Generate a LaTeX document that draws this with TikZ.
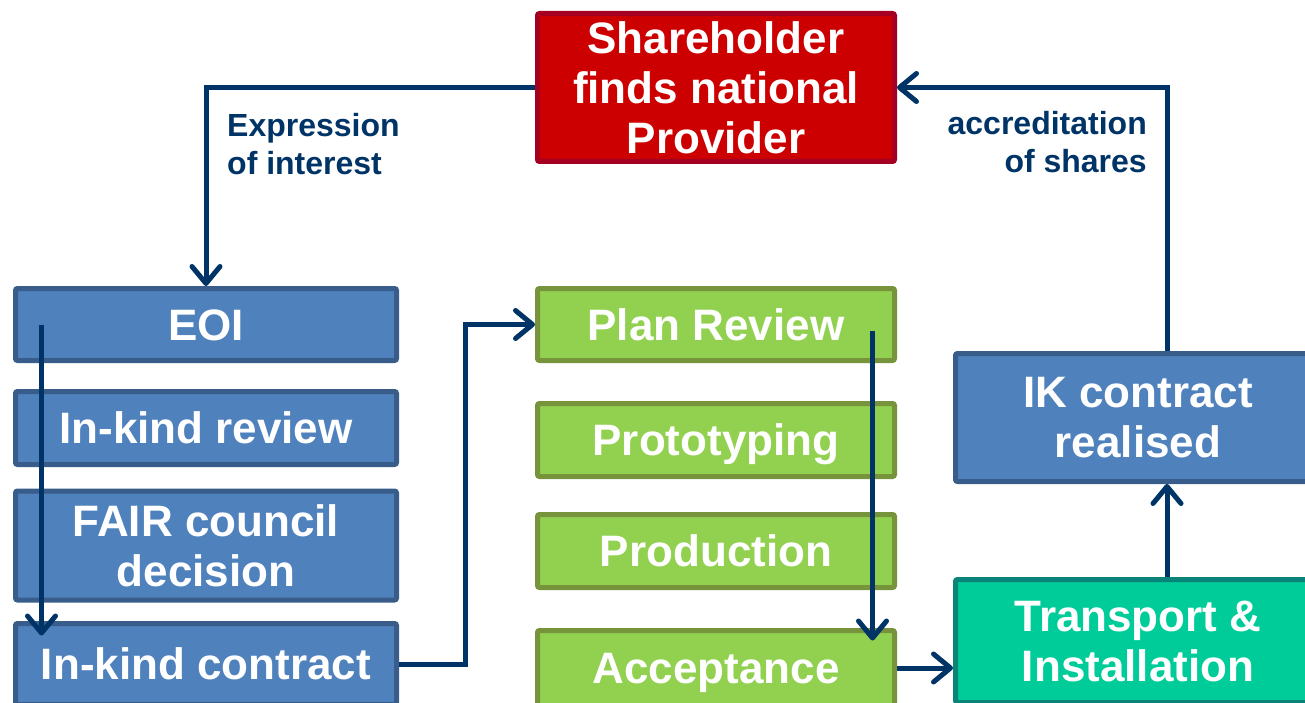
\documentclass[tikz,border=0pt]{standalone}
\usepackage{fontspec}
\setmainfont{Liberation Sans}
\usepackage{tikz}
\usetikzlibrary{arrows.meta}

\definecolor{redfill}{HTML}{CC0000}
\definecolor{redline}{HTML}{A50021}
\definecolor{bluefill}{HTML}{4F81BD}
\definecolor{blueline}{HTML}{385D8A}
\definecolor{greenfill}{HTML}{92D050}
\definecolor{greenline}{HTML}{77933C}
\definecolor{tealfill}{HTML}{00CC99}
\definecolor{tealline}{HTML}{0A8478}
\definecolor{arrowc}{HTML}{003366}

\begin{document}
\begin{tikzpicture}[x=1pt,y=-1pt,
                    >={Straight Barb[length=17pt,width=28pt,line cap=round,line join=round]},
                    box/.style={draw,line width=5pt,rounded corners=2pt,inner sep=0pt,
                                text=white,align=center,
                                font=\bfseries\fontsize{44}{50}\selectfont},
                    oneline/.style={text height=41pt,text depth=10pt},
                    redbox/.style={box,fill=redfill,draw=redline},
                    bluebox/.style={box,fill=bluefill,draw=blueline},
                    greenbox/.style={box,fill=greenfill,draw=greenline,oneline},
                    tealbox/.style={box,fill=tealfill,draw=tealline},
                    lbl/.style={inner sep=0pt,text=arrowc,
                                font=\bfseries\fontsize{32}{38}\selectfont},
                    link/.style={->,line width=5pt,draw=arrowc},
                    every edge/.style={link}]
  \useasboundingbox (0,0) rectangle (1305,703);
  \clip (0,0) rectangle (1305,703);

  \node[redbox,   minimum width=357pt, minimum height=148pt] (SH)  at (716,87.5)  {Shareholder\\finds national\\Provider};

  \node[bluebox,oneline, minimum width=381pt, minimum height=72pt] (EOI) at (206,324.5) {EOI};
  \node[bluebox,oneline, minimum width=381pt, minimum height=73pt] (IKR) at (206,428)   {In-kind review};
  \node[bluebox,  minimum width=381pt, minimum height=109pt] (FCD) at (206,545.5) {FAIR council\\decision};
  \node[bluebox,oneline, minimum width=381pt, minimum height=81pt] (IKC) at (206,664)   {In-kind contract};

  \node[greenbox, minimum width=357pt, minimum height=72pt]  (PR)  at (716,324.5) {Plan Review};
  \node[greenbox, minimum width=357pt, minimum height=73pt]  (PT)  at (716,440)   {Prototyping};
  \node[greenbox, minimum width=357pt, minimum height=73pt]  (PD)  at (716,551)   {Production};
  \node[greenbox, minimum width=357pt, minimum height=75pt]  (AC)  at (716,668)   {Acceptance};

  \node[bluebox,  minimum width=365pt, minimum height=128pt] (IKD) at (1138,417.5) {IK contract\\realised};
  \node[tealbox,  minimum width=365pt, minimum height=123pt] (TI)  at (1138,641)   {Transport \&\\Installation};

  \node[lbl, anchor=west, align=left]  (EXP) at (227,144.5)  {Expression\\of interest};
  \node[lbl, anchor=east, align=right] (ACC) at (1147,142) {accreditation\\of shares};

  \draw[link] (SH.west) -| (EOI.north);
  \draw[link] ([xshift=29pt]IKD.north) |- (SH.east);
  \draw[link] (IKC.east) -- ++(66,0) |- (PR.west);

  \path ([xshift=28.5pt]EOI.west) edge ([xshift=28.5pt,yshift=-14.5pt]IKC.north west)
        ([xshift=-24.5pt,yshift=-6pt]PR.east) edge ([xshift=-24.5pt,yshift=-12.5pt]AC.north east)
        (AC.east) edge (AC.east -| TI.west)
        ([xshift=29pt]TI.north) edge ([xshift=29pt]IKD.south);
\end{tikzpicture}
\end{document}
